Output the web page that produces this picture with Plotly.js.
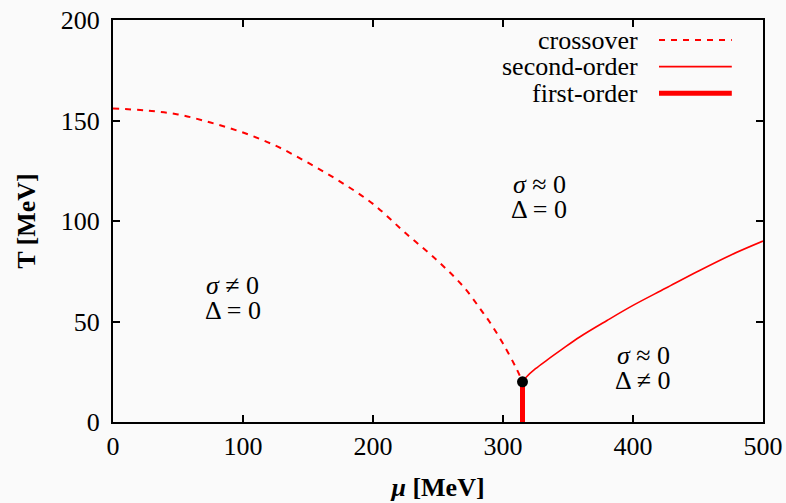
<!DOCTYPE html>
<html>
<head>
<meta charset="utf-8">
<script src="https://cdn.plot.ly/plotly-3.0.1.min.js"></script>
<style>html,body{margin:0;padding:0;background:#fafafa;}#chart{width:786px;height:503px;}</style>
</head>
<body>
<div id="chart"></div>
<script>
// Crossover line (dashed)
const crossoverMu = [0, 25, 50, 75, 100, 125, 150, 175, 200, 225, 250, 270, 285, 290, 300, 310, 315];
const crossoverT  = [156, 155, 153, 149, 144, 137.5, 129, 119.5, 108.5, 94, 80, 67, 54, 49.5, 39, 27, 20];
// Second-order line
const secondMu = [315, 318, 325, 333.6, 345, 359, 380, 400, 425, 450, 475, 500];
const secondT  = [20, 22.4, 26.5, 30.7, 36, 42.3, 50.5, 58, 66.5, 75, 83, 90];
// First-order line
const firstMu = [315, 315];
const firstT  = [0, 20];
// Critical point
const critMu = [315];
const critT  = [20];
// Tick labels
const xTicks = [0, 100, 200, 300, 400, 500];
const yTicks = [0, 50, 100, 150, 200];
// Region labels (two lines each)
const regionMu = [92, 328, 408];
const regionT  = [62, 112, 27];
const regionLine1 = ['<i>σ</i> ≠ 0', '<i>σ</i> ≈ 0', '<i>σ</i> ≈ 0'];
const regionLine2 = ['Δ = 0', 'Δ = 0', 'Δ ≠ 0'];
// Legend entries
const legendNames = ['crossover', 'second-order', 'first-order'];

const red = '#ff0000';
const font = 'Liberation Serif';

const traces = [
  {x: crossoverMu, y: crossoverT, mode: 'lines', line: {color: red, width: 2, dash: '6px,6px', shape: 'spline', smoothing: 1}, hoverinfo: 'skip'},
  {x: secondMu, y: secondT, mode: 'lines', line: {color: red, width: 1.6, shape: 'spline', smoothing: 1}, hoverinfo: 'skip'},
  {x: firstMu, y: firstT, mode: 'lines', line: {color: red, width: 5}, hoverinfo: 'skip'},
  {x: critMu, y: critT, mode: 'markers', marker: {color: '#000', size: 11}, hoverinfo: 'skip', cliponaxis: false}
];

const legendStyles = [
  {width: 2, dash: '6px,6px'},
  {width: 1.6, dash: 'solid'},
  {width: 5, dash: 'solid'}
];
const legendY = [0.950, 0.884, 0.818];

const annotations = [];
const shapes = [];
for (let i = 0; i < regionMu.length; i++) {
  annotations.push({x: regionMu[i], y: regionT[i], xref: 'x', yref: 'y', text: regionLine1[i], yshift: 12,
    showarrow: false, align: 'center', font: {family: font, size: 26, color: '#000'}});
  annotations.push({x: regionMu[i], y: regionT[i], xref: 'x', yref: 'y', text: regionLine2[i], yshift: -13,
    showarrow: false, align: 'center', font: {family: font, size: 26, color: '#000'}});
}
for (let i = 0; i < legendNames.length; i++) {
  annotations.push({x: 0.811, y: legendY[i], xref: 'paper', yref: 'paper', xanchor: 'right', yanchor: 'middle',
    text: legendNames[i], showarrow: false, font: {family: font, size: 26, color: '#000'}});
  shapes.push({type: 'line', xref: 'paper', yref: 'paper', x0: 0.84, x1: 0.952, y0: legendY[i], y1: legendY[i],
    line: {color: red, width: legendStyles[i].width, dash: legendStyles[i].dash}});
}

const axisCommon = {
  showgrid: false, zeroline: false, showline: true, linecolor: '#000', linewidth: 2,
  mirror: 'ticks', ticks: 'inside', ticklen: 7, tickwidth: 2, tickcolor: '#000',
  tickfont: {family: font, size: 26, color: '#000'}
};

const layout = {
  width: 786, height: 503,
  margin: {l: 113, r: 23, t: 20, b: 81},
  font: {family: font, size: 26, color: '#000'},
  paper_bgcolor: '#fafafa', plot_bgcolor: '#fafafa',
  showlegend: false,
  xaxis: Object.assign({}, axisCommon, {range: [0, 500], tickvals: xTicks, ticktext: xTicks.map(String),
    title: {text: '<i>μ</i> [MeV]', font: {family: font, size: 26, color: '#000', weight: 'bold'}, standoff: 18}}),
  yaxis: Object.assign({}, axisCommon, {range: [0, 200], tickvals: yTicks, ticktext: yTicks.map(String),
    ticklabelstandoff: 6,
    title: {text: 'T [MeV]', font: {family: font, size: 26, color: '#000', weight: 'bold'}, standoff: 18}}),
  annotations: annotations,
  shapes: shapes
};

Plotly.newPlot('chart', traces, layout, {staticPlot: true});
</script>
</body>
</html>
